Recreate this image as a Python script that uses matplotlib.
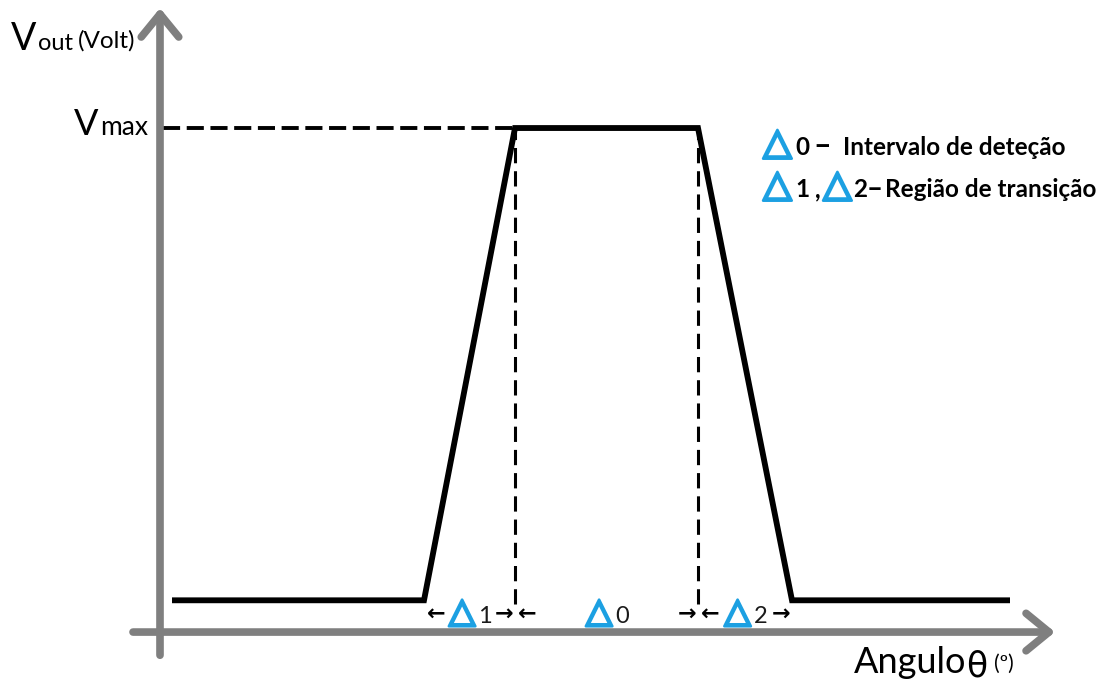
import matplotlib
matplotlib.use('Agg')
import matplotlib.pyplot as plt
import matplotlib.patheffects as pe

plt.rcParams['font.family'] = ['Lato', 'DejaVu Sans']

# breakpoints of the sensor output (angle in arbitrary units, voltage normalised to Vmax)
theta = [1.2, 26.4, 35.5, 53.8, 63.2, 85.0]
vout = [0.063, 0.063, 1.0, 1.0, 0.063, 0.063]

# interval labels under the curve: (start, end, index)
intervals = [(26.4, 35.5, '1'), (35.5, 53.8, '0'), (53.8, 63.2, '2')]

BLUE = '#1ca0e2'
GREY = '#7f7f7f'

fig = plt.figure(figsize=(11.14, 6.88), dpi=100)
ax = fig.add_axes([0, 0, 1, 1])
ax.set_xlim(-16, 95.4)
ax.set_ylim(-0.111, 1.254)
ax.axis('off')


def P(x, y):
    """pixel position (from top left) -> data coordinates"""
    return (x - 160) / 10.0, (632 - y) / 504.0


def txt(x, y, s, size, **kw):
    kw.setdefault('ha', 'left')
    kw.setdefault('va', 'baseline')
    return ax.text(*P(x, y), s, fontsize=size, **kw)


# axes with open arrow heads
arrow = dict(arrowstyle='->,head_length=0.55,head_width=0.45', lw=5.5, color=GREY,
             mutation_scale=30, shrinkA=0, shrinkB=0, capstyle='round', joinstyle='round')
ax.annotate('', xy=(89.5, 0), xytext=(-2.7, 0), arrowprops=arrow)
ax.annotate('', xy=(0, 1.238), xytext=(0, -0.046), arrowprops=arrow)

# dashed guides
ax.plot([0.3, theta[2]], [vout[2], vout[2]], color='black', lw=2.8, linestyle=(0, (4.4, 1.7)))
for t in (theta[2], theta[3]):
    ax.plot([t, t], [vout[0] - 0.008, vout[2]], color='black', lw=2.2,
            linestyle=(0, (5, 2.6)))

# output curve
ax.plot(theta, vout, color='black', lw=4.2, solid_joinstyle='miter', solid_capstyle='butt')

# delta glyph: outlined triangle, thickened with a stroke
thick = [pe.withStroke(linewidth=1.9, foreground=BLUE)]
tri = dict(color=BLUE, family='DejaVu Sans', path_effects=thick)
bold = dict(fontweight='bold', color='black')

# legend
txt(763, 154, '△', 27, **tri)
txt(795, 155, '0', 17.5, **bold)
txt(813, 155, '–', 22, **bold)
txt(843, 155, 'Intervalo de deteção', 17.5, **bold)
txt(763, 196, '△', 27, **tri)
txt(795, 197, '1', 17.5, **bold)
txt(815, 197, ',', 17.5, **bold)
txt(823, 196, '△', 27, **tri)
txt(853, 197, '2', 17.5, **bold)
txt(867, 197, '–', 20, **bold)
txt(885, 197, 'Região de transição', 17.5, **bold)

# interval markers under the curve
arrow_y = 0.036
base_y = 0.018
for a, b, idx in intervals:
    ax.text(a + 0.3, arrow_y, '←', fontsize=16, family='DejaVu Sans', fontweight='bold',
            ha='left', va='center', color='black')
    ax.text(b - 0.2, arrow_y, '→', fontsize=16, family='DejaVu Sans', fontweight='bold',
            ha='right', va='center', color='black')
    mid = (a + b) / 2
    ax.text(mid + 0.6, base_y + 0.002, '△', fontsize=25, color=BLUE, family='DejaVu Sans',
            path_effects=thick, ha='right', va='baseline')
    ax.text(mid + 0.9, base_y, idx, fontsize=17, color='#1a1a1a', ha='left', va='baseline')

# axis titles
txt(11, 50, 'V', 27)
txt(38, 50, 'out', 17)
txt(78, 48, '(Volt)', 17.5)
txt(74, 135, 'V', 26)
txt(100, 135, 'max', 19)
txt(854, 673, 'Angulo', 26)
txt(966, 676, 'θ', 25, family='DejaVu Sans')
txt(994, 670, '(º)', 15)

fig.savefig('out.png', dpi=100, facecolor='white')
